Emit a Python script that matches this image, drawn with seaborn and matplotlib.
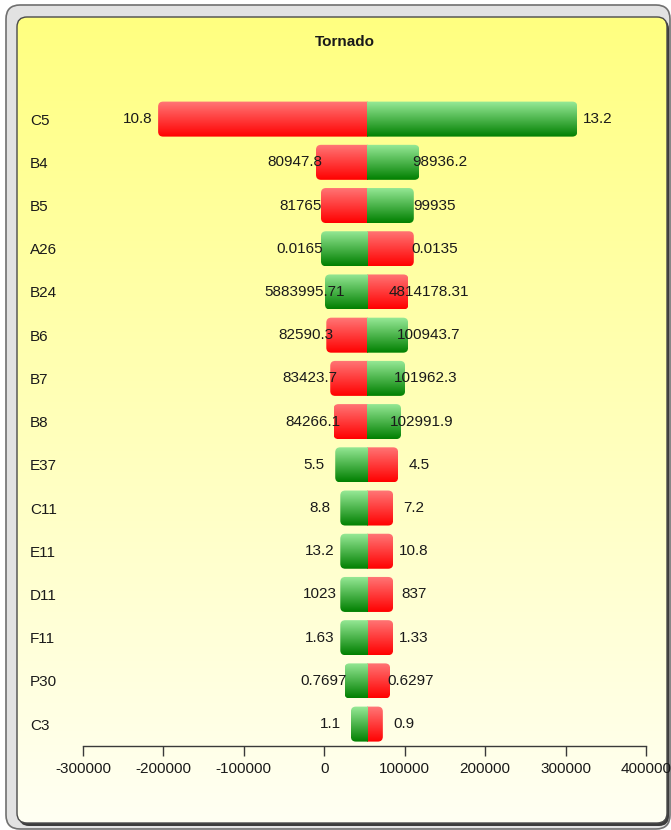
import numpy as np
import pandas as pd
import seaborn as sns
import matplotlib.pyplot as plt
from matplotlib.patches import FancyBboxPatch
from matplotlib.transforms import IdentityTransform

# Tornado data: output at the low / high end of each bar, plus the input values shown
categories = ["C5", "B4", "B5", "A26", "B24", "B6", "B7", "B8",
              "E37", "C11", "E11", "D11", "F11", "P30", "C3"]
base_value = 53700
left_ends = [-206600, -10300, -4100, -4100, 870, 2500, 7400, 11500,
             13600, 19900, 19900, 19900, 19900, 25200, 33100]
right_ends = [314600, 118200, 111300, 111300, 104600, 104200, 100500, 95500,
              91800, 85600, 85600, 85600, 85600, 81900, 72800]
left_labels = ["10.8", "80947.8", "81765", "0.0165", "5883995.71", "82590.3", "83423.7",
               "84266.1", "5.5", "8.8", "13.2", "1023", "1.63", "0.7697", "1.1"]
right_labels = ["13.2", "98936.2", "99935", "0.0135", "4814178.31", "100943.7", "101962.3",
                "102991.9", "4.5", "7.2", "10.8", "837", "1.33", "0.6297", "0.9"]
x_ticks = [-300000, -200000, -100000, 0, 100000, 200000, 300000, 400000]

W, H = 671, 830
FS = 11
TXT = "#1a1a1a"

sns.set_theme(style="white")
plt.rcParams['font.family'] = ['Liberation Sans', 'DejaVu Sans']
plt.rcParams['axes.unicode_minus'] = False

# one row per bar segment, hue = whether the input was the high or low value
rows = []
for cat, lo, hi, ll, rl in zip(categories, left_ends, right_ends, left_labels, right_labels):
    left_in = "high" if float(ll) > float(rl) else "low"
    right_in = "low" if left_in == "high" else "high"
    rows.append({"param": cat, "delta": lo - base_value, "input": left_in})
    rows.append({"param": cat, "delta": hi - base_value, "input": right_in})
df = pd.DataFrame(rows)

fig = plt.figure(figsize=(W / 100, H / 100), dpi=100)

# background frame
bg = fig.add_axes([0, 0, 1, 1])
bg.axis('off')
bezel = FancyBboxPatch((6, 5), 664, 824, boxstyle="round,pad=0,rounding_size=14",
                       facecolor="#e2e2e2", edgecolor="#707070", lw=1.2)
bg.add_patch(bezel)
shadow = FancyBboxPatch((19, 19), 650, 807, boxstyle="round,pad=0,rounding_size=10",
                        facecolor="#3c3c3c", edgecolor="none")
bg.add_patch(shadow)
panel = FancyBboxPatch((17, 17), 650, 806, boxstyle="round,pad=0,rounding_size=10",
                       facecolor="none", edgecolor="#4a4a4a", lw=1.0, zorder=3)
bg.add_patch(panel)
t = np.linspace(0, 1, 256)[:, None]
top_c = np.array([255, 255, 128]) / 255
bot_c = np.array([255, 255, 243]) / 255
grad = top_c[None, None, :] * (1 - t[..., None]) + bot_c[None, None, :] * t[..., None]
im = bg.imshow(grad, extent=(17, 667, 823, 17), aspect='auto', interpolation='bilinear', zorder=2)
im.set_clip_path(FancyBboxPatch((17, 17), 650, 806, boxstyle="round,pad=0,rounding_size=10",
                                transform=bg.transData))
bg.set_xlim(0, W)
bg.set_ylim(H, 0)

# main chart
ax = fig.add_axes([83 / W, 1 - 745.7 / H, 563 / W, (745.7 - 97.5) / H])
ax.patch.set_alpha(0)
sns.barplot(data=df, y="param", x="delta", hue="input", hue_order=["low", "high"],
            palette={"low": "#ff0000", "high": "#008000"}, dodge=False, orient="h",
            width=0.81, errorbar=None, legend=False, ax=ax)

# bars start at the base value
for p in ax.patches:
    p.set_x(p.get_x() + base_value)

ax.set_xlim(x_ticks[0], x_ticks[-1])
ax.set_ylim(len(categories) - 0.5, -0.5)

gradients = {
    "red": ((1.0, 0.47, 0.47), (1.0, 0.0, 0.0)),
    "green": ((0.60, 0.92, 0.60), (0.0, 0.50, 0.0)),
}

# full extent of each bar, for rounded clipping
extents = {}
for p in ax.patches:
    x0 = min(p.get_x(), p.get_x() + p.get_width())
    x1 = max(p.get_x(), p.get_x() + p.get_width())
    key = round(p.get_y(), 3)
    lo, hi = extents.get(key, (x0, x1))
    extents[key] = (min(lo, x0), max(hi, x1))

for p in list(ax.patches):
    x0 = min(p.get_x(), p.get_x() + p.get_width())
    x1 = max(p.get_x(), p.get_x() + p.get_width())
    y0 = p.get_y()
    y1 = y0 + p.get_height()
    fc = p.get_facecolor()
    top, bot = gradients["red"] if fc[0] > 0.5 else gradients["green"]
    top, bot = np.array(top), np.array(bot)
    g = top[None, None, :] * (1 - t[..., None]) + bot[None, None, :] * t[..., None]
    bx0, bx1 = extents[round(y0, 3)]
    (dx0, dy0), (dx1, dy1) = ax.transData.transform([(bx0, y0), (bx1, y1)])
    clip = FancyBboxPatch((min(dx0, dx1), min(dy0, dy1)), abs(dx1 - dx0), abs(dy1 - dy0),
                          boxstyle="round,pad=0,rounding_size=5", transform=IdentityTransform())
    img = ax.imshow(g, extent=(x0, x1, y1, y0), aspect='auto', interpolation='bilinear', zorder=2)
    img.set_clip_path(clip)
    p.set_visible(False)

ax.set_xlim(x_ticks[0], x_ticks[-1])
ax.set_ylim(len(categories) - 0.5, -0.5)

# value labels at both ends
for i, (lo, hi, ll, rl) in enumerate(zip(left_ends, right_ends, left_labels, right_labels)):
    ax.annotate(ll, xy=(lo, i), xytext=(-15, 0), textcoords="offset points",
                ha="center", va="center", fontsize=FS, color=TXT, zorder=4)
    ax.annotate(rl, xy=(hi, i), xytext=(15, 0), textcoords="offset points",
                ha="center", va="center", fontsize=FS, color=TXT, zorder=4)

ax.set_xticks(x_ticks)
ax.set_xticklabels([str(v) for v in x_ticks], fontsize=FS, color=TXT)
ax.set_yticks(range(len(categories)))
ax.set_yticklabels(categories, fontsize=FS, color=TXT)
for lbl in ax.get_yticklabels():
    lbl.set_ha("left")
ax.tick_params(axis="y", length=0, pad=38)
ax.tick_params(axis="x", bottom=True, length=7, width=1, color="#3a3a3a", pad=5)
ax.set_xlabel("")
ax.set_ylabel("")
sns.despine(ax=ax, left=True)
ax.spines["bottom"].set_color("#3a3a3a")
ax.spines["bottom"].set_linewidth(1)

fig.text(345 / W, 1 - 42 / H, "Tornado", ha="center", va="center",
         fontsize=FS, fontweight="bold", color=TXT)

fig.savefig("out.png", dpi=100)
